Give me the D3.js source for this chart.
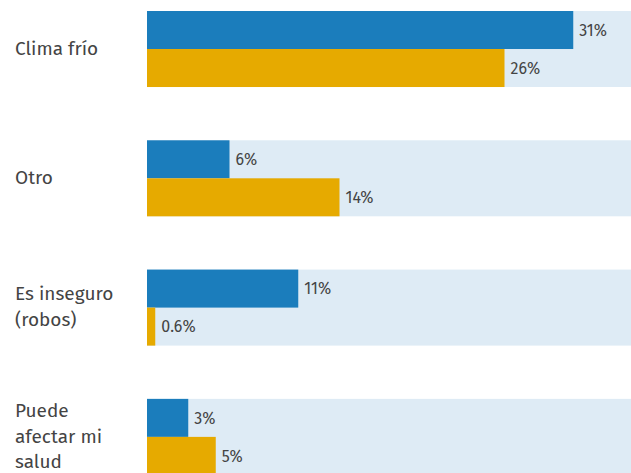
<!DOCTYPE html>
<html>
<head>
<meta charset="utf-8">
<script src="https://cdn.jsdelivr.net/npm/d3@7"></script>
<style>
  html, body { margin: 0; padding: 0; background: #ffffff; }
  svg { display: block; overflow: hidden; }
  text { font-family: "Fira Sans", "Lato", "Noto Sans", sans-serif; }
</style>
</head>
<body>
<svg id="chart" width="631" height="473"></svg>
<script>
// Reasons, with the wrapped lines used for each label
const categories = ["Clima frío", "Otro", "Es inseguro (robos)", "Puede afectar mi salud"];
const categoryLines = [["Clima frío"], ["Otro"], ["Es inseguro", "(robos)"], ["Puede", "afectar mi", "salud"]];
const seriesNames = ["A", "B"];
const seriesA = [31, 6, 11, 3];
const seriesB = [26, 14, 0.6, 5];
const valueLabelsA = ["31%", "6%", "11%", "3%"];
const valueLabelsB = ["26%", "14%", "0.6%", "5%"];
const xMax = 35.2;

const colors = { A: "#1b7dbc", B: "#e6aa00", track: "#deebf5" };

const svg = d3.select("#chart");
const width = 631;

const x = d3.scaleLinear().domain([0, xMax]).range([147, width]);

const y = d3.scaleBand()
  .domain(categories)
  .range([11, 474.9])
  .paddingInner(0.412)
  .paddingOuter(0);

const sub = d3.scaleBand()
  .domain(seriesNames)
  .range([0, y.bandwidth()])
  .padding(0);

const rows = categories.map((c, i) => ({
  cat: c,
  lines: categoryLines[i],
  vals: [
    { s: "A", v: seriesA[i], label: valueLabelsA[i] },
    { s: "B", v: seriesB[i], label: valueLabelsB[i] }
  ]
}));

const g = svg.selectAll("g.row")
  .data(rows)
  .join("g")
  .attr("class", "row")
  .attr("transform", d => `translate(0,${y(d.cat)})`);

// light track behind each group
g.append("rect")
  .attr("x", x(0))
  .attr("y", 0)
  .attr("width", x(xMax) - x(0))
  .attr("height", y.bandwidth())
  .attr("fill", colors.track);

// bars
g.selectAll("rect.bar")
  .data(d => d.vals)
  .join("rect")
  .attr("class", "bar")
  .attr("x", x(0))
  .attr("y", d => sub(d.s))
  .attr("width", d => x(d.v) - x(0))
  .attr("height", sub.bandwidth())
  .attr("fill", d => colors[d.s]);

// value labels
g.selectAll("text.val")
  .data(d => d.vals)
  .join("text")
  .attr("class", "val")
  .attr("x", d => x(d.v) + 6)
  .attr("y", d => sub(d.s) + sub.bandwidth() / 2)
  .attr("dy", "0.36em")
  .attr("font-size", 16)
  .attr("fill", "#444")
  .text(d => d.label);

// category labels, centred on the group
const lineH = 25.5;
g.append("text")
  .attr("class", "cat")
  .attr("font-size", 19)
  .attr("fill", "#444")
  .each(function(d) {
    const t = d3.select(this);
    const n = d.lines.length;
    d.lines.forEach((ln, k) => {
      t.append("tspan")
        .attr("x", 15)
        .attr("y", y.bandwidth() / 2 - 1 + (k - (n - 1) / 2) * lineH)
        .attr("dy", "0.35em")
        .text(ln);
    });
  });
</script>
</body>
</html>
